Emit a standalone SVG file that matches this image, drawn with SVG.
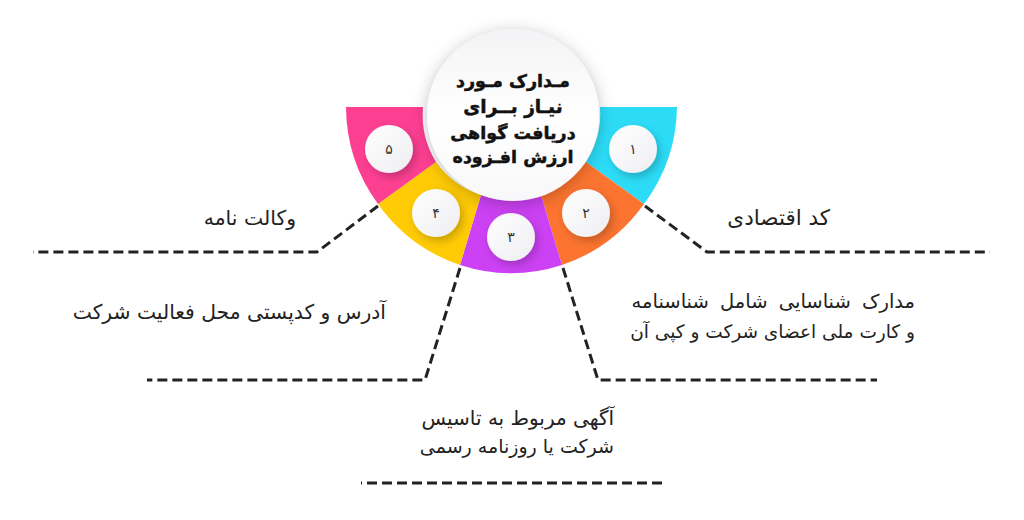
<svg xmlns="http://www.w3.org/2000/svg" width="1024" height="520" viewBox="0 0 1024 520">
<style>
.t{font-family:"DejaVu Sans",sans-serif;font-size:19.500px;fill:#222;direction:rtl;text-anchor:start}
.n{font-family:"DejaVu Sans",sans-serif;font-size:14px;fill:#333;text-anchor:middle}
.h{font-family:"DejaVu Sans",sans-serif;font-weight:700;font-size:20px;fill:#111;stroke:#111;stroke-width:.5;direction:rtl;text-anchor:middle}
.c{fill:none;stroke:#222;stroke-width:3;stroke-dasharray:10 5}
.b{fill:url(#g);filter:url(#s)}
</style>
<defs>
<linearGradient id="g" x1="0" y1="0" x2="1" y2="1"><stop offset="0" stop-color="#fff"/><stop offset="1" stop-color="#eeeef2"/></linearGradient>
<filter id="s" x="-30%" y="-30%" width="170%" height="170%"><feDropShadow dx="3" dy="4" stdDeviation="4" flood-color="#000" flood-opacity=".22"/></filter>
<filter id="s2" x="-20%" y="-20%" width="140%" height="140%"><feDropShadow dx="0" dy="3" stdDeviation="8" flood-color="#000" flood-opacity=".25"/></filter>
<linearGradient id="g2" x1="0" y1="0" x2="0" y2="1"><stop offset="0" stop-color="#f3f3f5"/><stop offset=".5" stop-color="#fff"/><stop offset="1" stop-color="#f8f8fa"/></linearGradient>
</defs>
<g id="connectors">
<path class="c" d="M645 206L707 252H990"/>
<path class="c" d="M563 268L598 380H877"/>
<path class="c" d="M460 268L425 380H147"/>
<path class="c" d="M378 206L317 252H33"/>
<path class="c" d="M662 483H361"/>
</g>
<g id="node-1">
<path fill="#2cdcf7" d="M677 107A165.500 165.500 0 0 1 644 204L586 162A90 90 0 0 0 600 107Z"/>
<circle class="b" cx="633" cy="149" r="24"/>
<text class="n" x="633" y="154">۱</text>
<text class="t" x="830" y="225" style="font-size:21.500px">کد اقتصادی</text>
</g>
<g id="node-2">
<path fill="#fc7430" d="M644 204A165.500 165.500 0 0 1 562 265L541 195A90 90 0 0 0 586 162Z"/>
<circle class="b" cx="586" cy="213" r="24"/>
<text class="n" x="586" y="218">۲</text>
<text class="t" x="915" y="308" style="word-spacing:5px">مدارک شناسایی شامل شناسنامه</text>
<text class="t" x="915" y="338" style="font-size:18.500px">و کارت ملی اعضای شرکت و کپی آن</text>
</g>
<g id="node-3">
<path fill="#cc41f4" d="M562 265A165.500 165.500 0 0 1 460 265L481 195A90 90 0 0 0 541 195Z"/>
<circle class="b" cx="511" cy="237" r="24"/>
<text class="n" x="511" y="242">۳</text>
<text class="t" x="614" y="425" style="font-size:20px">آگهی مربوط به تاسیس</text>
<text class="t" x="614" y="453" style="font-size:19px">شرکت یا روزنامه رسمی</text>
</g>
<g id="node-4">
<path fill="#ffcb05" d="M460 265A165.500 165.500 0 0 1 378 204L436 162A90 90 0 0 0 481 195Z"/>
<circle class="b" cx="436" cy="213" r="24"/>
<text class="n" x="436" y="218">۴</text>
<text class="t" x="386" y="319" style="font-size:20.300px">آدرس و کدپستی محل فعالیت شرکت</text>
</g>
<g id="node-5">
<path fill="#fd3f92" d="M378 204A165.500 165.500 0 0 1 346 107H423A90 90 0 0 0 436 162Z"/>
<circle class="b" cx="389" cy="149" r="24"/>
<text class="n" x="389" y="154">۵</text>
<text class="t" x="296" y="225" style="font-size:20.400px">وکالت نامه</text>
</g>
<g id="center">
<circle cx="513" cy="115" r="86" fill="url(#g2)" filter="url(#s2)"/>
<text class="h" x="513" y="87" style="font-size:17.500px">مـدارک مـورد</text>
<text class="h" x="513" y="113" style="font-size:18.500px">نیـاز بــرای</text>
<text class="h" x="513" y="139" style="font-size:17.500px">دریافت گواهی</text>
<text class="h" x="513" y="163" style="font-size:17.500px">ارزش افـزوده</text>
</g>
</svg>
